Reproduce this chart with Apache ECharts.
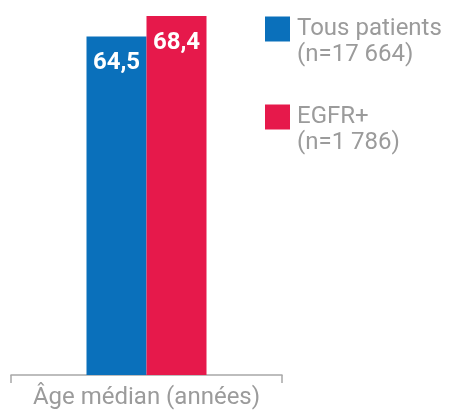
<!DOCTYPE html>
<html>
<head>
<meta charset="utf-8">
<script src="https://cdn.jsdelivr.net/npm/echarts@6/dist/echarts.min.js"></script>
<style>
  html, body { margin: 0; padding: 0; background: #fff; }
  #chart { width: 449px; height: 411px; }
</style>
</head>
<body>
<div id="chart"></div>
<script>
var categories = ['Âge médian (années)'];
var seriesNames = ['Tous patients', 'EGFR+'];
var seriesCounts = ['(n=17 664)', '(n=1 786)'];
var tousValues = [64.5];
var egfrValues = [68.4];

var myChart = echarts.init(document.getElementById('chart'));

function labelFmt(p) {
    return String(p.value).replace('.', ',');
}

var option = {
    animation: false,
    textStyle: { fontFamily: 'Roboto' },
    grid: { left: 11, right: 167, top: 16, bottom: 36 },
    legend: {
        orient: 'vertical',
        left: 260,
        top: -15,
        itemWidth: 25,
        itemHeight: 25,
        itemGap: 10,
        icon: 'rect',
        data: seriesNames,
        formatter: function (name) {
            var i = seriesNames.indexOf(name);
            // leading empty line keeps the square level with the first line
            return '\n' + name + '\n' + seriesCounts[i];
        },
        textStyle: {
            color: '#9b9b9b',
            fontSize: 24,
            lineHeight: 26,
            padding: [0, 0, 0, 2]
        }
    },
    xAxis: {
        type: 'category',
        data: categories,
        axisLine: { lineStyle: { color: '#a8a8a8', width: 1.5 } },
        axisTick: { show: true, interval: 0, length: 8, lineStyle: { color: '#a8a8a8', width: 1.5 } },
        axisLabel: { color: '#9b9b9b', fontSize: 24, margin: 11 }
    },
    yAxis: {
        type: 'value',
        min: 0,
        max: 68.4,
        show: false,
        splitLine: { show: false }
    },
    series: [
        {
            name: seriesNames[0],
            type: 'bar',
            data: tousValues,
            barWidth: 60,
            barGap: 0,
            itemStyle: { color: '#0a70bb' },
            label: {
                show: true, position: 'insideTop', distance: 15,
                color: '#fff', fontSize: 24, fontWeight: 'bold',
                formatter: labelFmt
            }
        },
        {
            name: seriesNames[1],
            type: 'bar',
            data: egfrValues,
            barWidth: 60,
            barGap: 0,
            itemStyle: { color: '#e6194b' },
            label: {
                show: true, position: 'insideTop', distance: 15,
                color: '#fff', fontSize: 24, fontWeight: 'bold',
                formatter: labelFmt
            }
        }
    ]
};

myChart.setOption(option);
window.onresize = myChart.resize;
</script>
</body>
</html>
